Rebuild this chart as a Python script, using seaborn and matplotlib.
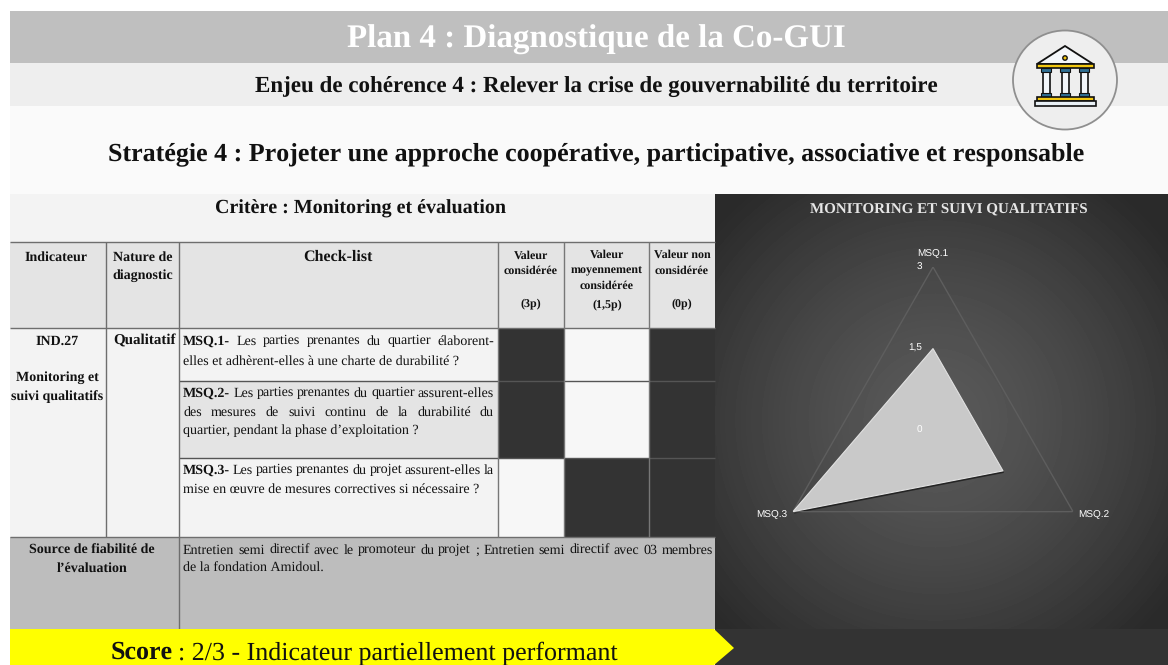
import numpy as np
import matplotlib
matplotlib.use('Agg')
import matplotlib.pyplot as plt
from matplotlib.patches import Rectangle, Polygon, Circle, Ellipse
import seaborn as sns

# radar data
criteria = ['MSQ.1', 'MSQ.2', 'MSQ.3']
scores = [1.5, 1.5, 3]
radial_ticks = [0, 1.5, 3]
radial_labels = ['0', '1,5', '3']

# check-list marks, 1 = dark cell, 0 = blank cell
check_marks = [[1, 0, 1], [1, 0, 1], [0, 1, 1]]

title = 'Plan 4 : Diagnostique de la Co-GUI'
subtitle = 'Enjeu de cohérence 4 : Relever la crise de gouvernabilité du territoire'
strategy = 'Stratégie 4 : Projeter une approche coopérative, participative, associative et responsable'
critere = 'Critère : Monitoring et évaluation'
radar_title = 'MONITORING ET SUIVI QUALITATIFS'

sns.set_theme(style='white')
plt.rcParams['font.family'] = ['Liberation Serif', 'DejaVu Serif']
plt.rcParams['text.hinting'] = 'no_hinting'
plt.rcParams['text.hinting_factor'] = 1

fig = plt.figure(figsize=(11.68, 6.65), dpi=100, facecolor='white')
ax = fig.add_axes([0, 0, 1, 1])
ax.set_xlim(0, 1168)
ax.set_ylim(665, 0)
ax.axis('off')


def band(x0, y0, x1, y1, color, z=1):
    ax.add_patch(Rectangle((x0, y0), x1 - x0, y1 - y0, fc=color, ec='none', zorder=z))


def line(x0, y0, x1, y1, color='#6e6e6e', lw=1.0):
    ax.plot([x0, x1], [y0, y1], color=color, lw=lw, zorder=3, solid_capstyle='butt')


def label(x, y, s, size, bold=False, color='#111111', ha='center'):
    # baseline alignment so words of one line stay level
    return ax.text(x, y + 0.44 * size, s, fontsize=size, fontweight='bold' if bold else 'normal',
                   color=color, ha=ha, va='baseline', zorder=5)


def justified(runs, x0, x1, y, size):
    # words spread between x0 and x1, matplotlib has no justify
    rend = fig.canvas.get_renderer()
    words = []
    for s, bold in runs:
        for w in s.split():
            t = label(0, y, w, size, bold, ha='left')
            words.append((t, t.get_window_extent(rend).width))
    gap = (x1 - x0 - sum(w for _, w in words)) / (len(words) - 1)
    x = x0
    for t, w in words:
        t.set_x(x)
        x += w + gap


# bands
band(10, 11, 1168, 63, '#bfbfbf')
band(10, 63, 1168, 106, '#eeeeee')
band(10, 106, 1168, 194, '#fafafa')
band(10, 194, 715, 242, '#f3f3f3')
band(10, 242, 715, 328, '#e4e4e4')
band(10, 328, 179, 537, '#f3f3f3')
band(179, 328, 498, 381, '#f3f3f3')
band(179, 381, 498, 458, '#e4e4e4')
band(179, 458, 498, 537, '#f3f3f3')
band(10, 537, 715, 629, '#bdbdbd')

# radar panel, radial gradient
yy, xx = np.mgrid[194:629, 715:1168]
dist = np.hypot(xx - 935, yy - 420) / 300
shade = np.clip(0.35 - 0.19 * dist ** 1.4, 0.165, 0.35)
ax.imshow(shade, extent=(715, 1168, 629, 194), cmap='gray', vmin=0, vmax=1,
          aspect='auto', zorder=1)
ax.set_xlim(0, 1168)
ax.set_ylim(665, 0)
band(715, 629, 1168, 665, '#333333')

# check cells
col_edges = [498, 564, 649, 715]
row_edges = [328, 381, 458, 537]
for i, row in enumerate(check_marks):
    for j, mark in enumerate(row):
        band(col_edges[j], row_edges[i], col_edges[j + 1], row_edges[i + 1],
             '#333333' if mark else '#f7f7f7', z=2)

# table lines
line(10, 242, 715, 242)
line(10, 328, 715, 328)
line(179, 381, 715, 381, '#555555')
line(179, 458, 715, 458, '#555555')
line(10, 537, 715, 537)
for x in [106, 179]:
    line(x, 242, x, 537)
line(179, 537, 179, 629)
for x in [498, 564, 649]:
    line(x, 242, x, 537, '#777777')

# headers
label(596, 37, title, 23.6, True, 'white')
label(596, 86, subtitle, 16.25, True)
label(596, 152, strategy, 18.7, True)
label(361, 207, critere, 14.1, True)
label(56, 256, 'Indicateur', 10.2, True)
label(143, 256, 'Nature de', 10.2, True)
label(143, 274, 'diagnostic', 10.2, True)
label(338, 256, 'Check-list', 11.5, True)
for x, rows in [(531, [(255, 'Valeur'), (270, 'considérée'), (303, '(3p)')]),
                (607, [(254, 'Valeur'), (270, 'moyennement'), (285, 'considérée'), (304, '(1,5p)')]),
                (682, [(254, 'Valeur non'), (270, 'considérée'), (303, '(0p)')])]:
    for y, s in rows:
        label(x, y, s, 8.5, True)

# first columns
label(57, 340, 'IND.27', 10.3, True)
label(57, 377, 'Monitoring et', 9.9, True)
label(57, 396, 'suivi qualitatifs', 9.9, True)
label(145, 340, 'Qualitatif', 10.5, True)

# check-list text
justified([('MSQ.1-', True), ('Les parties prenantes du quartier élaborent-', False)], 183, 494, 340, 10.1)
label(183, 360, 'elles et adhèrent-elles à une charte de durabilité ?', 10.1, ha='left')
justified([('MSQ.2-', True), ('Les parties prenantes du quartier assurent-elles', False)], 183, 494, 392, 10.1)
justified([('des mesures de suivi continu de la durabilité du', False)], 183, 494, 411, 10.1)
label(183, 430, 'quartier, pendant la phase d’exploitation ?', 10.1, ha='left')
justified([('MSQ.3-', True), ('Les parties prenantes du projet assurent-elles la', False)], 183, 494, 469, 10.1)
label(183, 488, 'mise en œuvre de mesures correctives si nécessaire ?', 10.1, ha='left')

# source row
label(92, 549, 'Source de fiabilité de', 10, True)
label(92, 567, 'l’évaluation', 10, True)
justified([('Entretien semi directif avec le promoteur du projet ; Entretien semi directif avec 03 membres', False)],
          183, 713, 549, 10)
label(183, 567, 'de la fondation Amidoul.', 10, ha='left')

# score arrow
ax.add_patch(Polygon([(10, 629), (714, 629), (734, 648), (714, 665), (10, 665)],
                     fc='#ffff00', ec='none', zorder=4))
label(111, 651, 'Score', 18.5, True, ha='left')
label(178, 651, ': 2/3 - Indicateur partiellement performant', 19, ha='left')

# icon
ax.add_patch(Ellipse((1065, 80), 104, 99, fc='#eeeeee', ec='#8f8f8f', lw=1.3, zorder=6))
ink = '#111111'
ax.add_patch(Polygon([(1037, 64), (1065, 46), (1093, 64)], fc='#f4f7fa', ec=ink, lw=1.3, zorder=7))
ax.add_patch(Circle((1065, 58), 2.2, fc='#f2c811', ec=ink, lw=1, zorder=8))
ax.add_patch(Rectangle((1037, 64), 57, 4, fc='#f2c811', ec=ink, lw=1.2, zorder=8))
for cx in [1046, 1065, 1084]:
    ax.add_patch(Rectangle((cx - 3.5, 71), 7, 23, fc='#f2f6fa', ec=ink, lw=1.2, zorder=7))
    ax.add_patch(Rectangle((cx - 5, 68), 10, 4, fc='#2f6f93', ec=ink, lw=0.8, zorder=8))
    ax.add_patch(Rectangle((cx - 5, 93), 10, 4, fc='#2f6f93', ec=ink, lw=0.8, zorder=8))
ax.add_patch(Rectangle((1037, 97), 57, 4, fc='#f2c811', ec=ink, lw=1.2, zorder=8))
ax.add_patch(Rectangle((1035, 101), 61, 4.5, fc='#eaf1f6', ec=ink, lw=1.2, zorder=8))

# radar, top vertex at y 267, slightly stretched like the source picture
rx, ry, cx0, cy0 = 161.7, 163.1, 933, 430.1
radar = fig.add_axes([(cx0 - rx) / 1168, (665 - cy0 - ry) / 665, 2 * rx / 1168, 2 * ry / 665],
                     projection='polar')
radar.set_aspect('auto')
radar.patch.set_alpha(0)
radar.set_theta_zero_location('N')
radar.set_theta_direction(-1)
radar.set_ylim(0, 3)
radar.axis('off')

angles = np.linspace(0, 2 * np.pi, len(criteria), endpoint=False)
closed = np.append(angles, angles[0])
outer = np.full(closed.shape, radial_ticks[-1])
vals = np.append(scores, scores[0])

sns.lineplot(x=closed, y=outer, sort=False, estimator=None, color='#5e5e5e', lw=1.0, ax=radar)
radar.fill(closed, vals, color='#c9c9c9', zorder=4, ec='#e2e2e2', lw=0.8)

# drop shadow of the filled area
sx, sy = vals * np.sin(closed), vals * np.cos(closed)
px = cx0 + sx / 3 * rx + 1
py = cy0 - sy / 3 * ry + 2
ax.add_patch(Polygon(np.column_stack([px, py]), fc='#161616', ec='none', alpha=0.75, zorder=3))

ann = dict(color='white', family=['Liberation Sans', 'DejaVu Sans'], annotation_clip=False,
           textcoords='offset pixels', fontsize=7.2, va='center', zorder=6)
radar.annotate(criteria[0], (angles[0], 3), xytext=(0, 13), ha='center', **ann)
radar.annotate(criteria[1], (angles[1], 3), xytext=(21, -2.5), ha='center', **ann)
radar.annotate(criteria[2], (angles[2], 3), xytext=(-21, -2.5), ha='center', **ann)
for t, s in zip(radial_ticks, radial_labels):
    radar.annotate(s, (0, t), xytext=(-11, 0), ha='right', **ann)

label(948.5, 209, radar_title, 10.9, True, '#e6e6e6')

fig.savefig('out.png', dpi=100)
